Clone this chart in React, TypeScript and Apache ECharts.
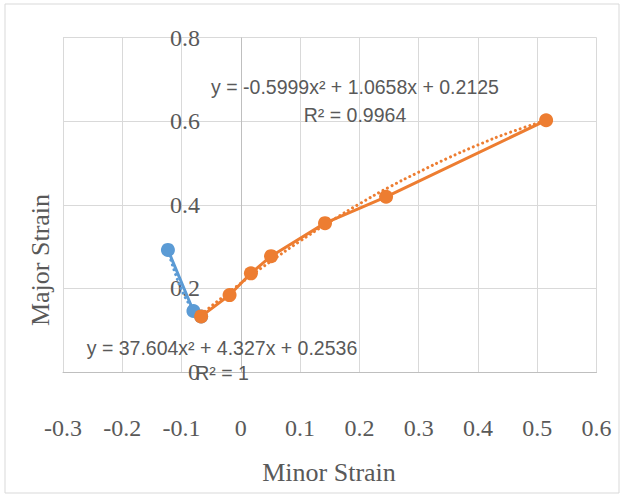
import React, { useEffect, useRef } from "react";
import * as echarts from "echarts";

const blueX = [-0.123, -0.08, -0.067];
const blueY = [0.292, 0.146, 0.133];
const orangeX = [-0.067, -0.019, 0.017, 0.051, 0.142, 0.245, 0.515];
const orangeY = [0.133, 0.184, 0.236, 0.277, 0.356, 0.419, 0.602];

// trendline points
const blueTrendX = [-0.123, -0.11, -0.1, -0.09, -0.08, -0.067];
const blueTrendY = [0.29, 0.233, 0.197, 0.169, 0.148, 0.133];
const orangeTrendX = [-0.067, 0, 0.05, 0.1, 0.15, 0.2, 0.25, 0.3, 0.35, 0.4, 0.45, 0.515];
const orangeTrendY = [0.138, 0.2125, 0.264, 0.313, 0.359, 0.402, 0.442, 0.478, 0.512, 0.543, 0.571, 0.602];

const xTicks = { min: -0.3, max: 0.6, step: 0.1 };
const yTicks = { min: 0, max: 0.8, step: 0.2 };

const eqOrange = "y = -0.5999x² + 1.0658x + 0.2125";
const r2Orange = "R² = 0.9964";
const eqBlue = "y = 37.604x² + 4.327x + 0.2536";
const r2Blue = "R² = 1";

const BLUE = "#5B9BD5";
const ORANGE = "#ED7D31";

const zip = (xs: number[], ys: number[]) => xs.map((x, i) => [x, ys[i]]);
const fmt = (v: number) => String(parseFloat(v.toFixed(1)));

export default function App() {
  const ref = useRef<HTMLDivElement>(null);
  useEffect(() => {
    const chart = echarts.init(ref.current!, null, { renderer: "svg" });
    const serif = "'Liberation Serif', 'Times New Roman', serif";
    const sans = "'Liberation Sans', Arial, sans-serif";
    chart.setOption({
      animation: false,
      backgroundColor: "#ffffff",
      grid: { left: 63, right: 25.5, top: 37.5, bottom: 125, outerBoundsMode: "none", containLabel: false },
      xAxis: {
        type: "value",
        min: xTicks.min,
        max: xTicks.max,
        interval: xTicks.step,
        axisLine: { show: true, onZero: false, lineStyle: { color: "#bfbfbf", width: 1 } },
        axisTick: { show: false },
        splitLine: { show: true, lineStyle: { color: "#d9d9d9", width: 1 } },
        axisLabel: { formatter: fmt, fontFamily: serif, fontSize: 24, color: "#595959", margin: 44 },
      },
      yAxis: {
        type: "value",
        min: yTicks.min,
        max: yTicks.max,
        interval: yTicks.step,
        axisLine: { show: true, onZero: false, lineStyle: { color: "#d9d9d9", width: 1 } },
        axisTick: { show: false },
        splitLine: { show: true, lineStyle: { color: "#d9d9d9", width: 1 } },
        axisLabel: {
          formatter: fmt,
          fontFamily: serif,
          fontSize: 24,
          color: "#595959",
          margin: -137,
          align: "right",
        },
      },
      series: [
        {
          type: "line",
          data: zip(blueTrendX, blueTrendY),
          showSymbol: false,
          smooth: true,
          lineStyle: { color: BLUE, width: 3, type: [0.01, 5], cap: "round" },
          z: 2,
          markLine: {
            silent: true,
            symbol: "none",
            label: { show: false },
            lineStyle: { color: "#bfbfbf", width: 1, type: "solid" },
            data: [{ xAxis: 0 }],
            z: 1,
          },
        },
        {
          type: "line",
          data: zip(blueX, blueY),
          symbol: "circle",
          symbolSize: 14,
          itemStyle: { color: BLUE },
          lineStyle: { color: BLUE, width: 3 },
          z: 3,
        },
        {
          type: "line",
          data: zip(orangeTrendX, orangeTrendY),
          showSymbol: false,
          smooth: true,
          lineStyle: { color: ORANGE, width: 3, type: [0.01, 5], cap: "round" },
          z: 4,
        },
        {
          type: "line",
          data: zip(orangeX, orangeY),
          symbol: "circle",
          symbolSize: 14,
          itemStyle: { color: ORANGE },
          lineStyle: { color: ORANGE, width: 3 },
          z: 5,
        },
      ],
      graphic: [
        {
          type: "rect",
          shape: { x: 5, y: 4, width: 614, height: 489 },
          style: { fill: "none", stroke: "#d9d9d9", lineWidth: 1 },
          z: -1,
          silent: true,
        },
        {
          type: "text",
          x: 329,
          y: 472,
          style: { text: "Minor Strain", font: `26px ${serif}`, fill: "#595959", align: "center", verticalAlign: "middle" },
        },
        {
          type: "text",
          x: 40,
          y: 260,
          rotation: Math.PI / 2,
          style: { text: "Major Strain", font: `26px ${serif}`, fill: "#595959", align: "center", verticalAlign: "middle" },
        },
        {
          type: "text",
          x: 355,
          y: 87,
          style: { text: eqOrange, font: `19.5px ${sans}`, fill: "#595959", align: "center", verticalAlign: "middle" },
          z: 10,
        },
        {
          type: "text",
          x: 355,
          y: 115,
          style: { text: r2Orange, font: `19.5px ${sans}`, fill: "#595959", align: "center", verticalAlign: "middle" },
          z: 10,
        },
        {
          type: "text",
          x: 222,
          y: 348,
          style: { text: eqBlue, font: `19.5px ${sans}`, fill: "#595959", align: "center", verticalAlign: "middle" },
          z: 10,
        },
        {
          type: "text",
          x: 222,
          y: 373,
          style: { text: r2Blue, font: `19.5px ${sans}`, fill: "#595959", align: "center", verticalAlign: "middle" },
          z: 10,
        },
      ],
    });
    return () => chart.dispose();
  }, []);
  return (
    <div
      ref={ref}
      style={{ position: "fixed", left: 0, top: 0, width: 622, height: 497 }}
    />
  );
}
